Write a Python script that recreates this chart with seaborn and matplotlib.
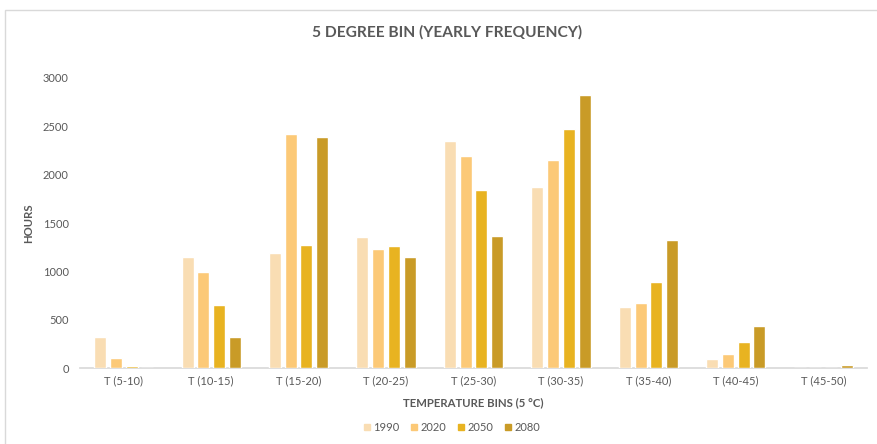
import matplotlib
matplotlib.use("Agg")
import matplotlib.pyplot as plt
from matplotlib.lines import Line2D
from matplotlib.patches import Rectangle
import seaborn as sns
import pandas as pd

# Temperature bins and yearly hours per bin for each scenario year
bins = ["T (5-10)", "T (10-15)", "T (15-20)", "T (20-25)", "T (25-30)",
        "T (30-35)", "T (35-40)", "T (40-45)", "T (45-50)"]
years = ["1990", "2020", "2050", "2080"]
hours_1990 = [320, 1150, 1190, 1355, 2350, 1875, 630, 95, 0]
hours_2020 = [105, 995, 2425, 1230, 2195, 2150, 670, 145, 0]
hours_2050 = [25, 650, 1270, 1265, 1840, 2475, 890, 270, 0]
hours_2080 = [0, 320, 2385, 1150, 1365, 2825, 1325, 435, 30]
yticks = [0, 500, 1000, 1500, 2000, 2500, 3000]

colors = ["#F9DDB3", "#FCC977", "#E8B321", "#C99B27"]
text_grey = "#595959"

series = [hours_1990, hours_2020, hours_2050, hours_2080]
df = pd.DataFrame({
    "bin": [b for _ in years for b in bins],
    "year": [y for y in years for _ in bins],
    "hours": [v for s in series for v in s],
})

sns.set_theme(style="white")
plt.rcParams["font.family"] = ["Lato", "DejaVu Sans"]

W, H = 877, 444
fig = plt.figure(figsize=(W / 100, H / 100), dpi=100)

# chart-area frame
fig.patches.append(Rectangle((5 / W, -0.05), 1.1, (H - 10) / H + 0.05,
                             transform=fig.transFigure, fill=False,
                             edgecolor="#D9D9D9", linewidth=1.0))

ax = fig.add_axes([80 / W, 76 / H, (867 - 80) / W, 290 / H])
sns.barplot(data=df, x="bin", y="hours", hue="year", order=bins,
            hue_order=years, palette=colors, width=0.72, gap=0.24,
            saturation=1, legend=False, ax=ax)
for bar in ax.patches:
    bar.set_zorder(3)

ax.set_ylim(0, 3000)
ax.set_xlim(-0.5, len(bins) - 0.5)
ax.set_yticks(yticks)
ax.set_yticklabels([str(t) for t in yticks])
ax.tick_params(axis="both", length=0, labelsize=8, labelcolor=text_grey)
ax.tick_params(axis="y", pad=8)
ax.tick_params(axis="x", pad=5)
for side in ["left", "right", "top"]:
    ax.spines[side].set_visible(False)
ax.spines["bottom"].set_color("#D9D9D9")
ax.spines["bottom"].set_zorder(2)
ax.set_facecolor("none")

ax.set_xlabel("TEMPERATURE BINS (5 °C)", fontsize=8.2, fontweight="bold",
              color=text_grey, labelpad=8)
ax.set_ylabel("HOURS", fontsize=8.2, fontweight="bold", color=text_grey,
              labelpad=6)

fig.text(447 / W, 1 - 32 / H, "5 DEGREE BIN (YEARLY FREQUENCY)",
         ha="center", va="center", fontsize=11.2, fontweight="bold",
         color=text_grey)

handles = [Line2D([], [], marker="s", linestyle="none", markersize=4,
                  markerfacecolor=c, markeredgecolor=c) for c in colors]
fig.legend(handles, years, loc="center", bbox_to_anchor=(452 / W, 1 - 427 / H),
           ncol=4, frameon=False, fontsize=8, labelcolor=text_grey,
           handletextpad=0.3, columnspacing=1.0, handlelength=0.6)

fig.savefig("out.png", dpi=100)
